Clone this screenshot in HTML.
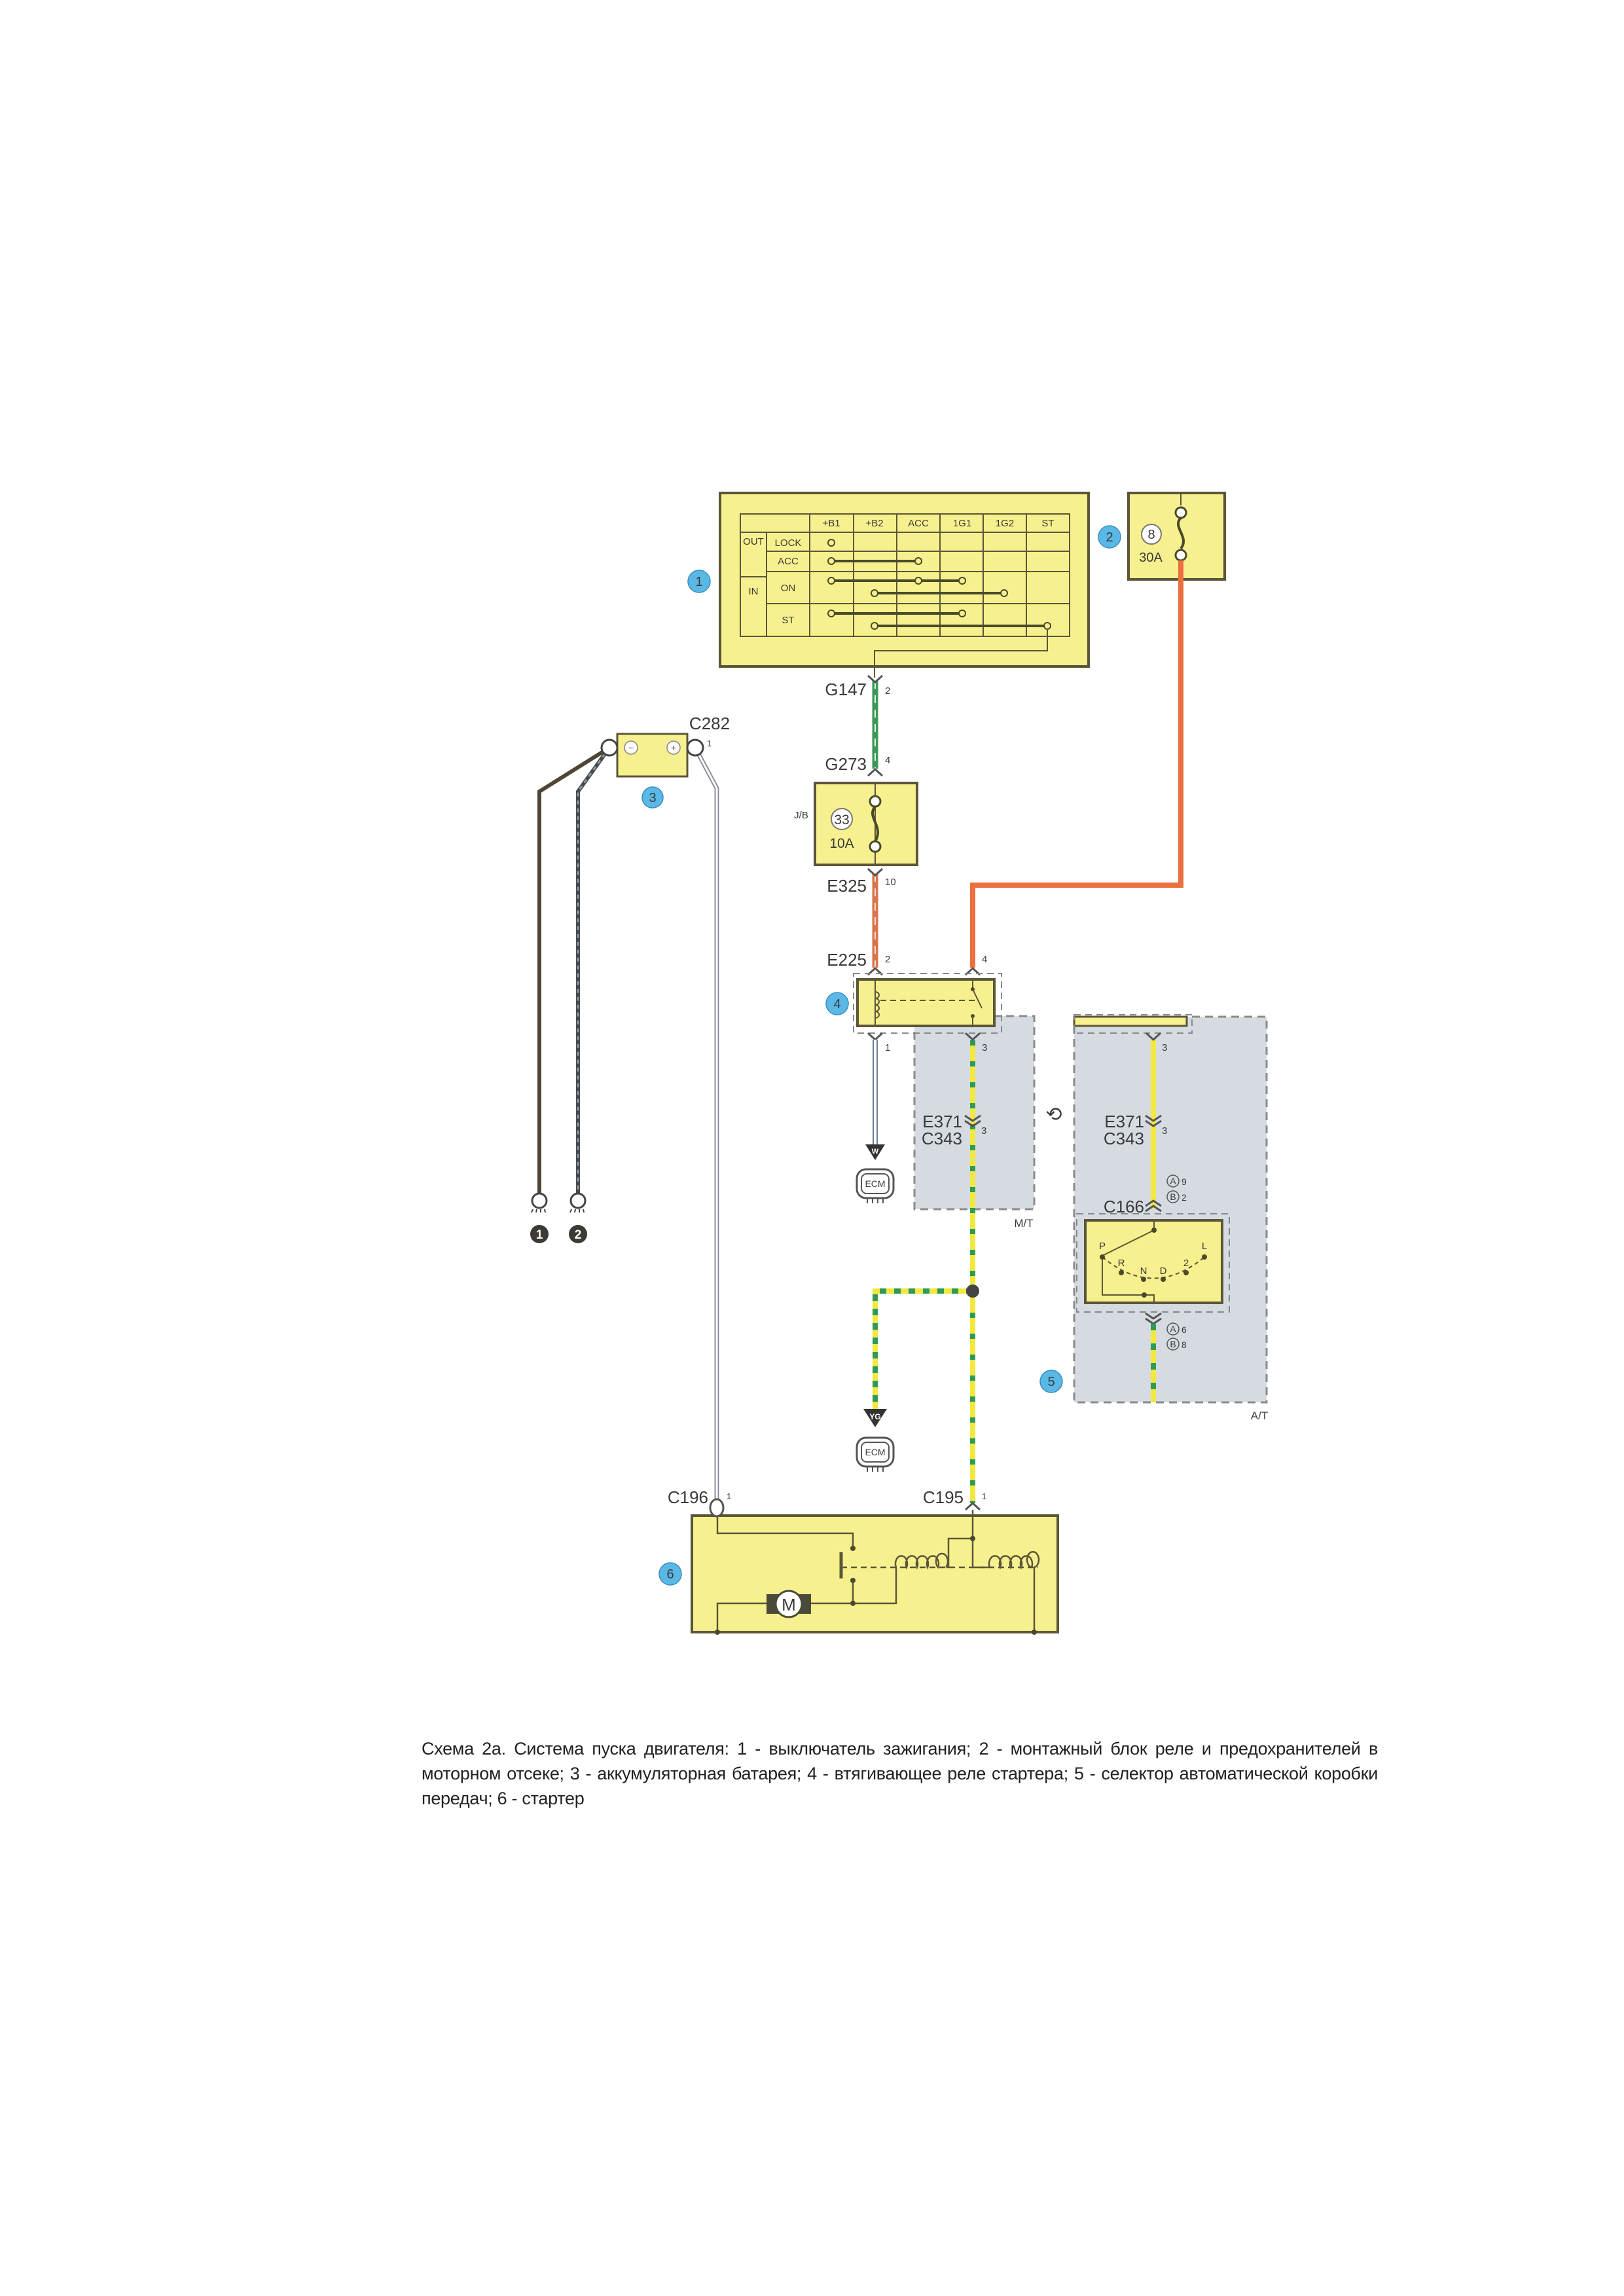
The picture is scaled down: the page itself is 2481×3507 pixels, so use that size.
<!DOCTYPE html>
<html><head><meta charset="utf-8"><style>
html,body{margin:0;padding:0;background:#fff}
svg{display:block}
text{font-family:"Liberation Sans",sans-serif;fill:#3a3a3a}
.cap{position:absolute;left:644px;top:2652px;width:1461px;font:27px/38px "Liberation Sans","Noto Sans CJK SC",sans-serif;color:#222;text-align:justify;letter-spacing:-0.3px}
</style></head><body>
<div style="position:relative;width:2481px;height:3507px;overflow:hidden">
<svg width="2481" height="3507" viewBox="0 0 2481 3507">
<!-- gray regions -->
<rect x="1397" y="1552" width="183" height="295" fill="#d5dbe1" stroke="#8a8a8a" stroke-width="3" stroke-dasharray="12 8"/>
<rect x="1641" y="1553" width="294" height="589" fill="#d5dbe1" stroke="#8a8a8a" stroke-width="3" stroke-dasharray="12 8"/>
<text x="1564" y="1874" font-size="17" text-anchor="middle">M/T</text>
<text x="1924" y="2168" font-size="17" text-anchor="middle">A/T</text>

<!-- Box 1 ignition switch -->
<rect x="1100" y="753" width="563" height="265" fill="#f6f08e" stroke="#5b5638" stroke-width="4"/>
<g stroke="#5b5638" stroke-width="2" fill="none">
<rect x="1131" y="785" width="503" height="187"/>
<line x1="1131" y1="813" x2="1634" y2="813"/>
<line x1="1171" y1="842" x2="1634" y2="842"/>
<line x1="1171" y1="873" x2="1634" y2="873"/>
<line x1="1171" y1="922" x2="1634" y2="922"/>
<line x1="1131" y1="881" x2="1171" y2="881"/>
<line x1="1171" y1="813" x2="1171" y2="972"/>
<line x1="1237" y1="785" x2="1237" y2="972"/>
<line x1="1304" y1="785" x2="1304" y2="972"/>
<line x1="1370" y1="785" x2="1370" y2="972"/>
<line x1="1436" y1="785" x2="1436" y2="972"/>
<line x1="1502" y1="785" x2="1502" y2="972"/>
<line x1="1568" y1="785" x2="1568" y2="972"/>
</g>
<g font-size="15" text-anchor="middle">
<text x="1270" y="804">+B1</text><text x="1336" y="804">+B2</text><text x="1403" y="804">ACC</text>
<text x="1470" y="804">1G1</text><text x="1535" y="804">1G2</text><text x="1601" y="804">ST</text>
<text x="1151" y="832">OUT</text><text x="1204" y="834">LOCK</text><text x="1204" y="862">ACC</text>
<text x="1204" y="903">ON</text><text x="1151" y="908">IN</text><text x="1204" y="952">ST</text>
</g>
<g stroke="#4a4a2a" stroke-width="4">
<line x1="1270" y1="857" x2="1403" y2="857"/>
<line x1="1270" y1="887" x2="1470" y2="887"/>
<line x1="1336" y1="906" x2="1534" y2="906"/>
<line x1="1270" y1="937" x2="1470" y2="937"/>
<line x1="1336" y1="956" x2="1600" y2="956"/>
</g>
<g fill="#f6f08e" stroke="#4a4a2a" stroke-width="2">
<circle cx="1270" cy="829" r="5"/><circle cx="1270" cy="857" r="5"/><circle cx="1403" cy="857" r="5"/>
<circle cx="1270" cy="887" r="5"/><circle cx="1403" cy="887" r="5"/><circle cx="1470" cy="887" r="5"/>
<circle cx="1336" cy="906" r="5"/><circle cx="1534" cy="906" r="5"/>
<circle cx="1270" cy="937" r="5"/><circle cx="1470" cy="937" r="5"/>
<circle cx="1336" cy="956" r="5"/><circle cx="1600" cy="956" r="5"/>
</g>
<polyline points="1600,961 1600,994 1336,994 1336,1035" fill="none" stroke="#5b5638" stroke-width="2"/>

<!-- Box 2 fuse 30A -->
<rect x="1724" y="753" width="147" height="132" fill="#f6f08e" stroke="#5b5638" stroke-width="4"/>
<circle cx="1759" cy="816" r="15" fill="#fff" stroke="#777" stroke-width="2"/>
<text x="1759" y="823" font-size="20" text-anchor="middle">8</text>
<text x="1758" y="858" font-size="20" text-anchor="middle">30A</text>
<line x1="1804" y1="753" x2="1804" y2="772" stroke="#5b5638" stroke-width="2"/>
<circle cx="1804" cy="783" r="8" fill="#fff" stroke="#4a4a2a" stroke-width="3"/>
<path d="M1804,791 C1790,805 1818,820 1804,838" fill="none" stroke="#4a4a2a" stroke-width="4"/>
<circle cx="1804" cy="848" r="8" fill="#fff" stroke="#4a4a2a" stroke-width="3"/>

<!-- orange wire from 2 -->
<polyline points="1804,856 1804,1352 1486,1352 1486,1478" fill="none" stroke="#ec6f3e" stroke-width="8"/>

<!-- G147 - G273 green wire -->
<line x1="1337" y1="1040" x2="1337" y2="1174" stroke="#3a9a55" stroke-width="9"/>
<line x1="1337" y1="1040" x2="1337" y2="1174" stroke="#e8f5e8" stroke-width="2" stroke-dasharray="12 10"/>
<path d="M1326,1032 L1337,1042 L1348,1032" fill="none" stroke="#555" stroke-width="3"/>
<path d="M1326,1185 L1337,1175 L1348,1185" fill="none" stroke="#555" stroke-width="3"/>
<text x="1324" y="1062" font-size="26" text-anchor="end">G147</text><text x="1352" y="1060" font-size="15">2</text>
<text x="1324" y="1176" font-size="26" text-anchor="end">G273</text><text x="1352" y="1166" font-size="15">4</text>

<!-- J/B -->
<rect x="1245" y="1196" width="156" height="125" fill="#f6f08e" stroke="#5b5638" stroke-width="4"/>
<text x="1224" y="1250" font-size="15" text-anchor="middle">J/B</text>
<circle cx="1286" cy="1251" r="16" fill="#fff" stroke="#777" stroke-width="2"/>
<text x="1286" y="1259" font-size="21" text-anchor="middle">33</text>
<text x="1286" y="1295" font-size="21" text-anchor="middle">10A</text>
<line x1="1337" y1="1196" x2="1337" y2="1321" stroke="#5b5638" stroke-width="2"/>
<circle cx="1337" cy="1224" r="8" fill="#fff" stroke="#4a4a2a" stroke-width="3"/>
<path d="M1337,1232 C1323,1248 1351,1262 1337,1285" fill="none" stroke="#4a4a2a" stroke-width="4"/>
<circle cx="1337" cy="1293" r="8" fill="#fff" stroke="#4a4a2a" stroke-width="3"/>

<!-- E325-E225 orange/white -->
<line x1="1337" y1="1335" x2="1337" y2="1478" stroke="#d9744c" stroke-width="9"/>
<line x1="1337" y1="1335" x2="1337" y2="1478" stroke="#f3e0d6" stroke-width="2" stroke-dasharray="12 10"/>
<path d="M1326,1327 L1337,1337 L1348,1327" fill="none" stroke="#555" stroke-width="3"/>
<text x="1324" y="1362" font-size="26" text-anchor="end">E325</text><text x="1352" y="1352" font-size="15">10</text>
<path d="M1326,1489 L1337,1479 L1348,1489" fill="none" stroke="#555" stroke-width="3"/>
<path d="M1475,1489 L1486,1479 L1497,1489" fill="none" stroke="#555" stroke-width="3"/>
<text x="1324" y="1475" font-size="26" text-anchor="end">E225</text><text x="1352" y="1470" font-size="15">2</text>
<text x="1500" y="1470" font-size="15">4</text>

<!-- relay 4 -->
<rect x="1310" y="1496" width="209" height="71" fill="#f6f08e" stroke="#5b5638" stroke-width="4"/>
<rect x="1304" y="1487" width="226" height="91" fill="none" stroke="#888" stroke-width="2" stroke-dasharray="10 7"/>
<line x1="1337" y1="1496" x2="1337" y2="1567" stroke="#5b5638" stroke-width="2"/>
<path d="M1337,1515 a6,5 0 1 1 0,10 a6,5 0 1 1 0,10 a6,5 0 1 1 0,10 a6,5 0 1 1 0,10" fill="none" stroke="#5b5638" stroke-width="2"/>
<line x1="1345" y1="1528" x2="1490" y2="1528" stroke="#5b5638" stroke-width="2" stroke-dasharray="9 6"/>
<line x1="1486" y1="1496" x2="1486" y2="1511" stroke="#5b5638" stroke-width="2"/>
<circle cx="1486" cy="1511" r="3" fill="#4a4a2a"/>
<line x1="1486" y1="1511" x2="1500" y2="1540" stroke="#5b5638" stroke-width="2"/>
<circle cx="1486" cy="1552" r="3" fill="#4a4a2a"/>
<line x1="1486" y1="1552" x2="1486" y2="1567" stroke="#5b5638" stroke-width="2"/>

<!-- relay out 1 to ECM W -->
<path d="M1326,1578 L1337,1588 L1348,1578" fill="none" stroke="#555" stroke-width="3"/>
<text x="1352" y="1605" font-size="15">1</text>
<line x1="1337" y1="1588" x2="1337" y2="1748" stroke="#6a7f95" stroke-width="8"/>
<line x1="1337" y1="1588" x2="1337" y2="1748" stroke="#fff" stroke-width="4"/>
<polygon points="1322,1748 1352,1748 1337,1772" fill="#333"/>
<text x="1337" y="1762" font-size="11" fill="#fff" style="fill:#fff" text-anchor="middle" font-weight="bold">W</text>
<rect x="1309" y="1786" width="56" height="44" rx="14" fill="#fff" stroke="#555" stroke-width="3"/>
<rect x="1316" y="1793" width="42" height="30" rx="8" fill="#fff" stroke="#555" stroke-width="2"/>
<text x="1337" y="1813" font-size="14" text-anchor="middle">ECM</text>
<path d="M1325,1830 v8 M1333,1830 v8 M1341,1830 v8 M1349,1830 v8" stroke="#555" stroke-width="2"/>

<!-- yellow/green main wire -->
<line x1="1486" y1="1589" x2="1486" y2="2296" stroke="#f2e840" stroke-width="8"/>
<line x1="1486" y1="1589" x2="1486" y2="2296" stroke="#2e9a58" stroke-width="8" stroke-dasharray="8 24"/>
<path d="M1475,1578 L1486,1588 L1497,1578" fill="none" stroke="#555" stroke-width="3"/>
<text x="1500" y="1605" font-size="15">3</text>
<path d="M1474,1704 L1486,1712 L1498,1704 M1474,1712 L1486,1720 L1498,1712" fill="none" stroke="#555" stroke-width="3"/>
<text x="1470" y="1722" font-size="26" text-anchor="end">E371</text>
<text x="1470" y="1748" font-size="26" text-anchor="end">C343</text>
<text x="1499" y="1732" font-size="15">3</text>
<!-- branch -->
<polyline points="1486,1972 1337,1972 1337,2152" fill="none" stroke="#f2e840" stroke-width="8"/>
<polyline points="1486,1972 1337,1972 1337,2152" fill="none" stroke="#2e9a58" stroke-width="8" stroke-dasharray="10 12"/>
<circle cx="1486" cy="1972" r="10" fill="#444"/>
<polygon points="1319,2152 1355,2152 1337,2180" fill="#333"/>
<text x="1337" y="2168" font-size="12" style="fill:#fff" text-anchor="middle" font-weight="bold">YG</text>
<rect x="1309" y="2196" width="56" height="44" rx="14" fill="#fff" stroke="#555" stroke-width="3"/>
<rect x="1316" y="2203" width="42" height="30" rx="8" fill="#fff" stroke="#555" stroke-width="2"/>
<text x="1337" y="2223" font-size="14" text-anchor="middle">ECM</text>
<path d="M1325,2240 v8 M1333,2240 v8 M1341,2240 v8 M1349,2240 v8" stroke="#555" stroke-width="2"/>

<!-- swap symbol -->
<text x="1610" y="1712" font-size="30" text-anchor="middle">⟲</text>

<!-- A/T part -->
<rect x="1641" y="1553" width="172" height="14" fill="#f6f08e" stroke="#5b5638" stroke-width="3"/>
<rect x="1641" y="1550" width="180" height="28" fill="none" stroke="#888" stroke-width="2" stroke-dasharray="10 7"/>
<line x1="1762" y1="1588" x2="1762" y2="1846" stroke="#f2e840" stroke-width="8"/>
<path d="M1751,1578 L1762,1588 L1773,1578" fill="none" stroke="#555" stroke-width="3"/>
<text x="1775" y="1605" font-size="15">3</text>
<path d="M1750,1704 L1762,1712 L1774,1704 M1750,1712 L1762,1720 L1774,1712" fill="none" stroke="#555" stroke-width="3"/>
<text x="1748" y="1722" font-size="26" text-anchor="end">E371</text>
<text x="1748" y="1748" font-size="26" text-anchor="end">C343</text>
<text x="1775" y="1732" font-size="15">3</text>
<g font-size="14"><circle cx="1792" cy="1804" r="9" fill="none" stroke="#555" stroke-width="1.5"/><text x="1792" y="1809" text-anchor="middle">A</text><text x="1805" y="1810">9</text>
<circle cx="1792" cy="1828" r="9" fill="none" stroke="#555" stroke-width="1.5"/><text x="1792" y="1833" text-anchor="middle">B</text><text x="1805" y="1834">2</text>
<circle cx="1792" cy="2030" r="9" fill="none" stroke="#555" stroke-width="1.5"/><text x="1792" y="2035" text-anchor="middle">A</text><text x="1805" y="2036">6</text>
<circle cx="1792" cy="2053" r="9" fill="none" stroke="#555" stroke-width="1.5"/><text x="1792" y="2058" text-anchor="middle">B</text><text x="1805" y="2059">8</text></g>
<path d="M1750,1842 L1762,1834 L1774,1842 M1750,1850 L1762,1842 L1774,1850" fill="none" stroke="#555" stroke-width="3"/>
<text x="1748" y="1852" font-size="26" text-anchor="end">C166</text>
<rect x="1645" y="1854" width="233" height="150" fill="none" stroke="#888" stroke-width="2" stroke-dasharray="10 7"/>
<rect x="1658" y="1864" width="209" height="126" fill="#f6f08e" stroke="#5b5638" stroke-width="4"/>
<g stroke="#5b5638" stroke-width="2" fill="none">
<line x1="1763" y1="1864" x2="1763" y2="1879"/>
<line x1="1763" y1="1879" x2="1684" y2="1918"/>
<path d="M1684,1920 Q1762,1985 1840,1920" stroke-dasharray="6 5"/>
<polyline points="1684,1920 1684,1978 1763,1978 1763,1990"/>
</g>
<g fill="#4a4a2a"><circle cx="1763" cy="1879" r="4"/><circle cx="1684" cy="1920" r="4"/><circle cx="1713" cy="1944" r="4"/><circle cx="1747" cy="1954" r="4"/><circle cx="1777" cy="1954" r="4"/><circle cx="1812" cy="1944" r="4"/><circle cx="1840" cy="1920" r="4"/><circle cx="1748" cy="1978" r="4"/></g>
<g font-size="15" text-anchor="middle"><text x="1684" y="1908">P</text><text x="1713" y="1934">R</text><text x="1747" y="1946">N</text><text x="1777" y="1946">D</text><text x="1812" y="1934">2</text><text x="1840" y="1908">L</text></g>
<path d="M1750,2006 L1762,2014 L1774,2006 M1750,2014 L1762,2022 L1774,2014" fill="none" stroke="#555" stroke-width="3"/>
<line x1="1762" y1="2022" x2="1762" y2="2142" stroke="#f2e840" stroke-width="8"/>
<line x1="1762" y1="2022" x2="1762" y2="2142" stroke="#2e9a58" stroke-width="8" stroke-dasharray="10 20"/>

<!-- battery -->
<rect x="943" y="1121" width="107" height="65" fill="#f6f08e" stroke="#5b5638" stroke-width="3"/>
<circle cx="964" cy="1142" r="10" fill="#fff" stroke="#888" stroke-width="1.5"/><text x="964" y="1147" font-size="14" text-anchor="middle">−</text>
<circle cx="1029" cy="1142" r="10" fill="#fff" stroke="#888" stroke-width="1.5"/><text x="1029" y="1147" font-size="14" text-anchor="middle">+</text>
<text x="1084" y="1114" font-size="26" text-anchor="middle">C282</text><text x="1080" y="1140" font-size="13">1</text>
<!-- ground wires -->
<polyline points="931,1142 824,1209 824,1822" fill="none" stroke="#4e4536" stroke-width="6"/>
<polyline points="931,1142 883,1209 883,1822" fill="none" stroke="#4a4a4a" stroke-width="6"/>
<polyline points="931,1142 883,1209 883,1822" fill="none" stroke="#8898b0" stroke-width="3" stroke-dasharray="6 6"/>
<circle cx="931" cy="1142" r="12" fill="#fff" stroke="#444" stroke-width="3"/>
<g fill="#fff" stroke="#444" stroke-width="3"><circle cx="824" cy="1834" r="11"/><circle cx="883" cy="1834" r="11"/></g>
<path d="M814,1847 l-2,5 M820,1847 l-1,5 M826,1847 l0,5 M832,1847 l1,5 M873,1847 l-2,5 M879,1847 l-1,5 M885,1847 l0,5 M891,1847 l1,5" stroke="#444" stroke-width="2"/>
<circle cx="824" cy="1885" r="14" fill="#3d3a35"/><text x="824" y="1892" font-size="19" style="fill:#fff" text-anchor="middle" font-weight="bold">1</text>
<circle cx="883" cy="1885" r="14" fill="#3d3a35"/><text x="883" y="1892" font-size="19" style="fill:#fff" text-anchor="middle" font-weight="bold">2</text>
<!-- white wire to starter -->
<polyline points="1062,1142 1095,1204 1095,2292" fill="none" stroke="#8a8f9a" stroke-width="7"/>
<polyline points="1062,1142 1095,1204 1095,2292" fill="none" stroke="#fff" stroke-width="3"/>
<circle cx="1062" cy="1142" r="12" fill="#fff" stroke="#444" stroke-width="3"/>

<!-- starter -->
<rect x="1057" y="2315" width="559" height="178" fill="#f6f08e" stroke="#5b5638" stroke-width="4"/>
<ellipse cx="1095" cy="2303" rx="10" ry="13" fill="#fff" stroke="#555" stroke-width="3"/>
<text x="1082" y="2296" font-size="26" text-anchor="end">C196</text><text x="1110" y="2290" font-size="13">1</text>
<path d="M1475,2306 L1486,2296 L1497,2306" fill="none" stroke="#555" stroke-width="3"/>
<text x="1472" y="2296" font-size="26" text-anchor="end">C195</text><text x="1500" y="2290" font-size="13">1</text>
<g stroke="#5b5638" stroke-width="2.5" fill="none">
<polyline points="1096,2315 1096,2342 1303,2342 1303,2365"/>
<line x1="1285" y1="2371" x2="1285" y2="2411" stroke-width="5"/>
<line x1="1285" y1="2394" x2="1586" y2="2394" stroke-dasharray="9 6"/>
<polyline points="1303,2414 1303,2449"/>
<polyline points="1239,2449 1369,2449 1369,2394"/>
<polyline points="1171,2449 1096,2449 1096,2493"/>
<path d="M1369,2394 a9,12 0 1 1 16,0 a9,12 0 1 1 16,0 a9,12 0 1 1 16,0 a9,12 0 1 1 16,0 a9,12 0 1 1 12,0"/>
<polyline points="1446,2394 1449,2394 1449,2350 1486,2350"/>
<polyline points="1486,2306 1486,2394 1512,2394"/>
<path d="M1512,2394 a9,12 0 1 1 16,0 a9,12 0 1 1 16,0 a9,12 0 1 1 16,0 a9,12 0 1 1 16,0 a9,12 0 1 1 4,0"/>
<polyline points="1580,2394 1580,2493"/>
</g>
<g fill="#4a4a2a"><circle cx="1303" cy="2365" r="4"/><circle cx="1303" cy="2414" r="4"/><circle cx="1303" cy="2449" r="4"/><circle cx="1486" cy="2350" r="4"/><circle cx="1096" cy="2493" r="4"/><circle cx="1580" cy="2493" r="4"/></g>
<rect x="1171" y="2435" width="68" height="30" fill="#4a4a3a"/>
<circle cx="1205" cy="2450" r="20" fill="#fff" stroke="#4a4a3a" stroke-width="3"/>
<text x="1205" y="2460" font-size="26" text-anchor="middle">M</text>

<!-- blue labels -->
<g fill="#5ab8e6" stroke="#3a8ec0" stroke-width="1.5">
<circle cx="1068" cy="888" r="17"/><circle cx="1695" cy="820" r="17"/><circle cx="997" cy="1218" r="16"/>
<circle cx="1279" cy="1533" r="17"/><circle cx="1606" cy="2110" r="17"/><circle cx="1024" cy="2404" r="17"/></g>
<g font-size="20" text-anchor="middle" style="fill:#2a4a6a">
<text x="1068" y="895">1</text><text x="1695" y="827">2</text><text x="997" y="1225">3</text>
<text x="1279" y="1540">4</text><text x="1606" y="2117">5</text><text x="1024" y="2411">6</text></g>
</svg>
<div class="cap">Схема 2a. Система пуска двигателя: 1 - выключатель зажигания; 2 - монтажный блок реле и предохранителей в моторном отсеке; 3 - аккумуляторная батарея; 4 - втягивающее реле стартера; 5 - селектор автоматической коробки передач; 6 - стартер</div>
</div>
</body></html>
